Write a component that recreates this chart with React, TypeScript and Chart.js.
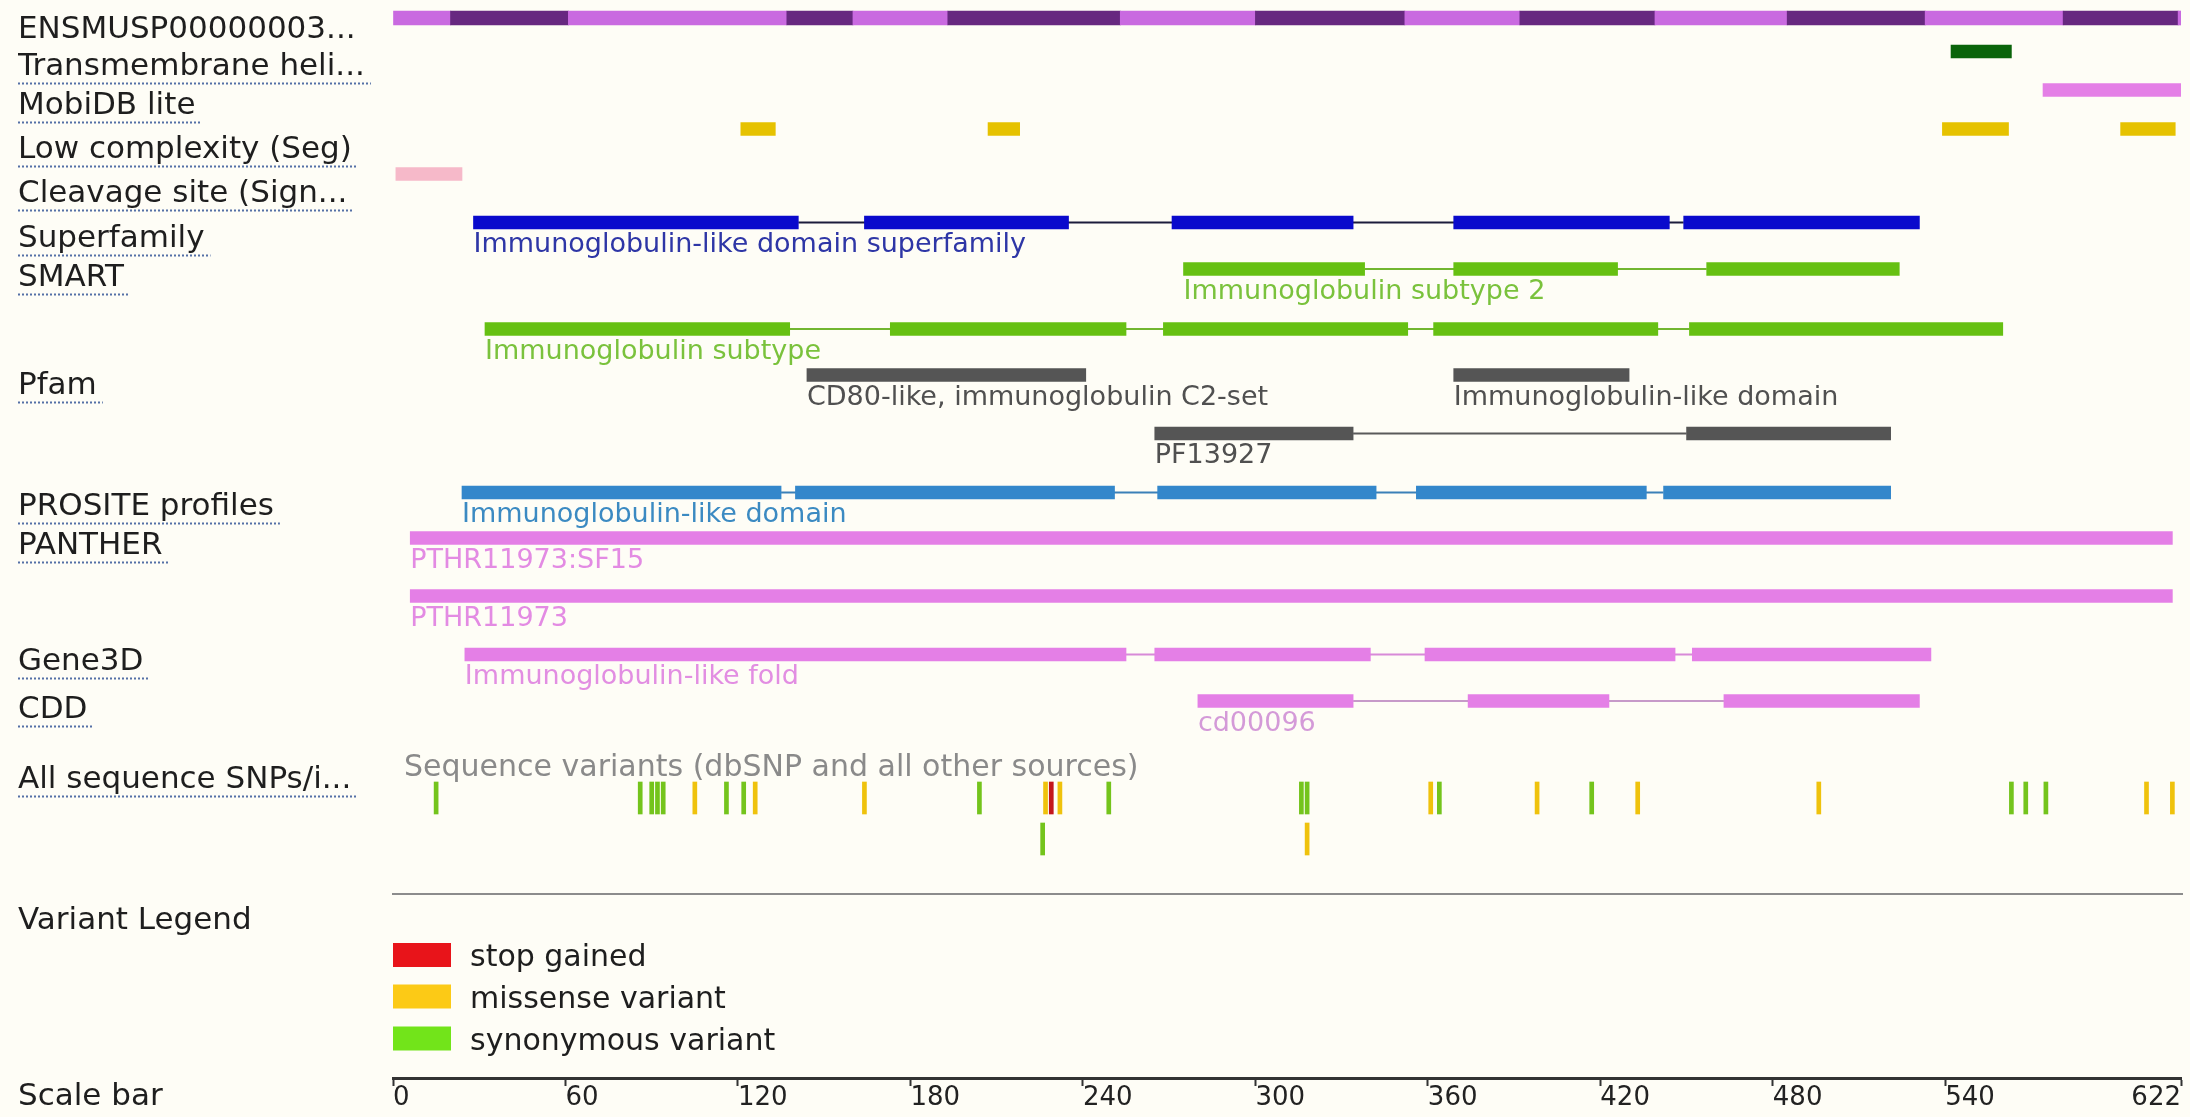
import React, { useEffect, useRef } from 'react';
import { Chart, registerables } from 'chart.js';

Chart.register(...registerables);

// ---------------- DATA ----------------
const SEQ_LENGTH = 622;
const SCALE_TICKS = [0, 60, 120, 180, 240, 300, 360, 420, 480, 540, 622];

const TRACK_NAMES = [
  'ENSMUSP00000003...',
  'Transmembrane heli...',
  'MobiDB lite',
  'Low complexity (Seg)',
  'Cleavage site (Sign...',
  'Superfamily',
  'SMART',
  'Pfam',
  'PROSITE profiles',
  'PANTHER',
  'Gene3D',
  'CDD',
  'All sequence SNPs/i...',
  'Variant Legend',
  'Scale bar',
];
const TRACK_UNDERLINED = [false, true, true, true, true, true, true, true, true, true, true, true, true, false, false];

// exon boundaries of the protein (alternating light / dark)
const EXON_BOUNDS = [0, 20, 61, 137, 160, 193, 253, 300, 352, 392, 439, 485, 533, 581, 621, 622];

const TM_HELIX = [[542, 563]];
const MOBIDB_LITE = [[574, 622]];
const LOW_COMPLEXITY = [[121, 133], [207, 218], [539, 562], [601, 620]];
const CLEAVAGE_SITE = [[1, 24]];
const SUPERFAMILY_IG = [[28, 141], [164, 235], [271, 334], [369, 444], [449, 531]];
const SMART_IG_SUBTYPE2 = [[275, 338], [369, 426], [457, 524]];
const SMART_IG_SUBTYPE = [[32, 138], [173, 255], [268, 353], [362, 440], [451, 560]];
const PFAM_CD80 = [[144, 241]];
const PFAM_IG = [[369, 430]];
const PFAM_PF13927 = [[265, 334], [450, 521]];
const PROSITE_IG = [[24, 135], [140, 251], [266, 342], [356, 436], [442, 521]];
const PANTHER_SF15 = [[6, 619]];
const PANTHER_FAM = [[6, 619]];
const GENE3D_IG = [[25, 255], [265, 340], [359, 446], [452, 535]];
const CDD_CD00096 = [[280, 334], [374, 423], [463, 531]];

const SNP_ROW1_POS = [15, 86, 90, 92, 94, 105, 116, 122, 126, 164, 204, 227, 229, 232, 249, 316, 318, 361, 364, 398, 417, 433, 496, 563, 568, 575, 610, 619];
const SNP_ROW1_TYPE = ['syn', 'syn', 'syn', 'syn', 'syn', 'mis', 'syn', 'syn', 'mis', 'mis', 'syn', 'mis', 'stop', 'mis', 'syn', 'syn', 'syn', 'mis', 'syn', 'mis', 'syn', 'mis', 'mis', 'syn', 'syn', 'syn', 'mis', 'mis'];
const SNP_ROW2_POS = [226, 318];
const SNP_ROW2_TYPE = ['syn', 'mis'];

const VARIANT_TYPES = ['stop', 'mis', 'syn'];
const VARIANT_NAMES = ['stop gained', 'missense variant', 'synonymous variant'];

// ---------------- LAYOUT / STYLE ----------------
const W = 2190;
const H = 1117;
const BG = '#fefdf6';
const FONT = "'DejaVu Sans', Verdana, sans-serif";
const PLOT_LEFT = 393;
const PLOT_RIGHT_PAD = 9;
const PLOT_BOTTOM = 1078;

// vertical layout units (px from top of plot)
const LANE_Y: Record<string, number> = {
  exon: 18, tm: 51.5, mobidb: 90, lowc: 129, cleavage: 174, superfamily: 222.5,
  smart1: 269, smart2: 329, pfam1: 375, pfam2: 433.5, prosite: 492.5,
  panther1: 538, panther2: 596, gene3d: 654.5, cdd: 701, snp1: 798, snp2: 839,
};
const TRACK_LABEL_Y = [30, 67, 106, 150, 194, 239, 278, 386, 507, 546, 662, 710, 780, 921, 1097];
const LEGEND_ROW_Y = [955, 996.5, 1038.5];
const SEPARATOR_Y = 894;
const SNP_HEADER_Y = 765;

const EXON_COLORS = ['#c96ae0', '#672880'];
const VARIANT_TICK_COLOR: Record<string, string> = { stop: '#c3161c', mis: '#efc20c', syn: '#74c41c' };
const VARIANT_LEGEND_COLOR: Record<string, string> = { stop: '#e8141a', mis: '#fcca16', syn: '#72e41a' };

const FEATURE_TRACKS: any[] = [
  { segs: TM_HELIX, lane: 'tm', color: '#0a640a' },
  { segs: MOBIDB_LITE, lane: 'mobidb', color: '#e47fe6' },
  { segs: LOW_COMPLEXITY, lane: 'lowc', color: '#e6c200' },
  { segs: CLEAVAGE_SITE, lane: 'cleavage', color: '#f6b9c9' },
  { segs: SUPERFAMILY_IG, lane: 'superfamily', color: '#0a0acc', line: '#1c1c3c', label: 'Immunoglobulin-like domain superfamily', labelColor: '#2e36a6' },
  { segs: SMART_IG_SUBTYPE2, lane: 'smart1', color: '#66c012', line: '#72b630', label: 'Immunoglobulin subtype 2', labelColor: '#7ac23c' },
  { segs: SMART_IG_SUBTYPE, lane: 'smart2', color: '#66c012', line: '#72b630', label: 'Immunoglobulin subtype', labelColor: '#7ac23c' },
  { segs: PFAM_CD80, lane: 'pfam1', color: '#555555', label: 'CD80-like, immunoglobulin C2-set', labelColor: '#505050' },
  { segs: PFAM_IG, lane: 'pfam1', color: '#555555', label: 'Immunoglobulin-like domain', labelColor: '#505050' },
  { segs: PFAM_PF13927, lane: 'pfam2', color: '#555555', line: '#5a5a5a', label: 'PF13927', labelColor: '#505050' },
  { segs: PROSITE_IG, lane: 'prosite', color: '#3387cb', line: '#3a80b8', label: 'Immunoglobulin-like domain', labelColor: '#3b8ac2' },
  { segs: PANTHER_SF15, lane: 'panther1', color: '#e47fe6', label: 'PTHR11973:SF15', labelColor: '#e38be3' },
  { segs: PANTHER_FAM, lane: 'panther2', color: '#e47fe6', label: 'PTHR11973', labelColor: '#e38be3' },
  { segs: GENE3D_IG, lane: 'gene3d', color: '#e47fe6', line: '#d88ad8', label: 'Immunoglobulin-like fold', labelColor: '#e28ee2' },
  { segs: CDD_CD00096, lane: 'cdd', color: '#e47fe6', line: '#c79ac9', label: 'cd00096', labelColor: '#d49ad8' },
];

const barCommon = {
  type: 'bar' as const,
  indexAxis: 'y' as const,
  grouped: false,
  categoryPercentage: 1,
  barPercentage: 1,
  borderWidth: 0,
  order: 0,
};

function buildDatasets() {
  const ds: any[] = [];
  const exonData = [];
  const exonColors = [];
  for (let i = 0; i < EXON_BOUNDS.length - 1; i++) {
    exonData.push({ x: [EXON_BOUNDS[i], EXON_BOUNDS[i + 1]], y: LANE_Y.exon });
    exonColors.push(EXON_COLORS[i % 2]);
  }
  ds.push({ ...barCommon, data: exonData, backgroundColor: exonColors, maxBarThickness: 14 });

  for (const f of FEATURE_TRACKS) {
    ds.push({
      ...barCommon,
      data: f.segs.map((s: number[]) => ({ x: [s[0], s[1]], y: LANE_Y[f.lane] })),
      backgroundColor: f.color,
      maxBarThickness: 13,
    });
    if (f.line && f.segs.length > 1) {
      ds.push({
        type: 'line',
        indexAxis: 'x',
        data: [
          { x: f.segs[0][1], y: LANE_Y[f.lane] },
          { x: f.segs[f.segs.length - 1][0], y: LANE_Y[f.lane] },
        ],
        borderColor: f.line,
        borderWidth: 2,
        pointRadius: 0,
        fill: false,
        order: 1,
      });
    }
  }

  const snpData: any[] = [];
  const snpColors: string[] = [];
  SNP_ROW1_POS.forEach((p, i) => {
    snpData.push({ x: [p - 0.7, p + 0.7], y: LANE_Y.snp1 });
    snpColors.push(VARIANT_TICK_COLOR[SNP_ROW1_TYPE[i]]);
  });
  SNP_ROW2_POS.forEach((p, i) => {
    snpData.push({ x: [p - 0.7, p + 0.7], y: LANE_Y.snp2 });
    snpColors.push(VARIANT_TICK_COLOR[SNP_ROW2_TYPE[i]]);
  });
  ds.push({ ...barCommon, data: snpData, backgroundColor: snpColors, maxBarThickness: 32 });
  return ds;
}

const bgPlugin = {
  id: 'bgFill',
  beforeDraw(chart: any) {
    const { ctx, width, height } = chart;
    ctx.save();
    ctx.fillStyle = BG;
    ctx.fillRect(0, 0, width, height);
    ctx.restore();
  },
};

const textPlugin = {
  id: 'proteinTexts',
  afterDraw(chart: any) {
    const { ctx, chartArea } = chart;
    const xs = chart.scales.x;
    const ys = chart.scales.y;
    ctx.save();

    // feature labels under the bars
    ctx.font = `27px ${FONT}`;
    ctx.textAlign = 'left';
    ctx.textBaseline = 'alphabetic';
    for (const f of FEATURE_TRACKS) {
      if (!f.label) continue;
      ctx.fillStyle = f.labelColor;
      ctx.fillText(f.label, xs.getPixelForValue(f.segs[0][0]), ys.getPixelForValue(LANE_Y[f.lane]) + 29.5);
    }

    // SNP header
    ctx.font = `30px ${FONT}`;
    ctx.fillStyle = '#8a8a8a';
    ctx.fillText('Sequence variants (dbSNP and all other sources)', chartArea.left + 11, ys.getPixelForValue(SNP_HEADER_Y) + 11);

    // separator
    ctx.strokeStyle = '#8c8c8c';
    ctx.lineWidth = 2;
    ctx.beginPath();
    const sy = ys.getPixelForValue(SEPARATOR_Y);
    ctx.moveTo(chartArea.left - 1, sy);
    ctx.lineTo(chartArea.right + 2, sy);
    ctx.stroke();

    // dotted underlines of track names
    ctx.font = `31px ${FONT}`;
    ctx.strokeStyle = '#5470a6';
    ctx.lineWidth = 2;
    ctx.setLineDash([2, 2]);
    TRACK_NAMES.forEach((name, i) => {
      if (!TRACK_UNDERLINED[i]) return;
      const w = ctx.measureText(name).width;
      const y = Math.round(ys.getPixelForValue(TRACK_LABEL_Y[i]) + 16) + 0.5;
      ctx.beginPath();
      ctx.moveTo(ys.left, y);
      ctx.lineTo(ys.left + w + 6, y);
      ctx.stroke();
    });
    ctx.setLineDash([]);

    // variant legend
    ctx.font = `30px ${FONT}`;
    VARIANT_TYPES.forEach((t, i) => {
      const cy = ys.getPixelForValue(LEGEND_ROW_Y[i]);
      ctx.fillStyle = VARIANT_LEGEND_COLOR[t];
      ctx.fillRect(chartArea.left, cy - 12, 58, 24);
      ctx.fillStyle = '#1e1e1e';
      ctx.fillText(VARIANT_NAMES[i], chartArea.left + 77, cy + 11);
    });

    // scale bar labels
    ctx.font = `26px ${FONT}`;
    ctx.fillStyle = '#222222';
    SCALE_TICKS.forEach((v, i) => {
      ctx.textAlign = i === SCALE_TICKS.length - 1 ? 'right' : 'left';
      ctx.fillText(String(v), xs.getPixelForValue(v), chartArea.bottom + 27);
    });

    ctx.restore();
  },
};

export default function App() {
  const ref = useRef<HTMLCanvasElement>(null);
  useEffect(() => {
    const canvas = ref.current;
    if (!canvas) return;
    const chart = new Chart(canvas, {
      type: 'bar',
      data: { datasets: buildDatasets() },
      options: {
        indexAxis: 'y',
        animation: false,
        responsive: false,
        maintainAspectRatio: false,
        devicePixelRatio: 1,
        events: [],
        layout: { padding: { left: 18, right: PLOT_RIGHT_PAD, top: 0, bottom: H - PLOT_BOTTOM - 8 } },
        plugins: { legend: { display: false }, tooltip: { enabled: false } },
        scales: {
          x: {
            type: 'linear',
            position: 'bottom',
            min: 0,
            max: SEQ_LENGTH,
            offset: false,
            afterBuildTicks: (ax: any) => { ax.ticks = SCALE_TICKS.map((v) => ({ value: v })); },
            afterFit: (ax: any) => { ax.paddingLeft = 0; ax.paddingRight = 0; ax.paddingTop = 0; ax.paddingBottom = 0; },
            grid: { display: true, drawOnChartArea: false, drawTicks: true, tickLength: 8, tickWidth: 2, tickColor: '#333333', offset: false },
            border: { display: true, color: '#333333', width: 3 },
            ticks: { display: false },
          },
          y: {
            type: 'linear',
            position: 'left',
            min: 0,
            max: PLOT_BOTTOM,
            reverse: true,
            offset: false,
            afterBuildTicks: (ax: any) => { ax.ticks = TRACK_LABEL_Y.map((v) => ({ value: v })); },
            afterFit: (ax: any) => {
              ax.width = PLOT_LEFT - 18;
              ax.paddingTop = 0; ax.paddingBottom = 0; ax.paddingLeft = 0; ax.paddingRight = 0;
            },
            grid: { display: false, offset: false },
            border: { display: false },
            ticks: {
              autoSkip: false,
              crossAlign: 'far',
              padding: 0,
              font: { family: FONT, size: 31 },
              color: '#1e1e1e',
              callback: (_v: any, i: number) => TRACK_NAMES[i],
            },
          },
        },
      } as any,
      plugins: [bgPlugin, textPlugin],
    } as any);
    return () => chart.destroy();
  }, []);
  return (
    <div style={{ position: 'fixed', left: 0, top: 0, width: W, height: H, background: BG }}>
      <canvas ref={ref} width={W} height={H} style={{ display: 'block', width: W, height: H }} />
    </div>
  );
}
